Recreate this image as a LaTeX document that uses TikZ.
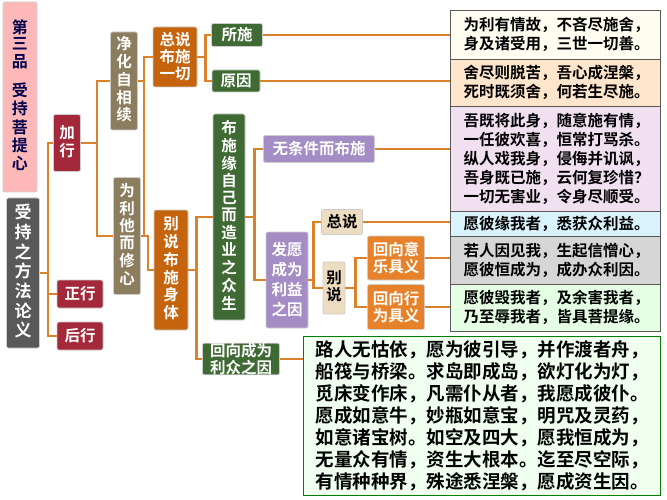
\documentclass[tikz,border=0pt]{standalone}
\usepackage{fontspec}
\setmainfont{Noto Sans CJK SC}[BoldFont={Noto Sans CJK SC Bold}]
\usetikzlibrary{calc}
\usetikzlibrary{positioning}
\definecolor{linkor}{HTML}{D9822B}
\definecolor{redbox}{HTML}{A3283A}
\definecolor{olivebox}{HTML}{8B7D5E}
\definecolor{brownbox}{HTML}{C6640E}
\definecolor{greenbox}{HTML}{3F6A33}
\definecolor{purplebox}{HTML}{A48CC4}
\definecolor{tanbox}{HTML}{EDDDC0}
\definecolor{orangebox}{HTML}{E8822A}
\newcommand{\vcol}[1]{\renewcommand{\arraystretch}{0.9}\begin{tabular}{@{}c@{}}#1\end{tabular}}
\begin{document}
\begin{tikzpicture}
		[
		x=1pt, y=-1pt,
		font=\bfseries,
		link/.style={draw=linkor,line width=2.2pt},
		]
		
		% Box styles
		\tikzstyle{box}=[draw=white!80!black,line width=0.8pt,rounded corners=2pt,inner sep=0,align=center,text=white,font=\fontsize{15.5}{17}\selectfont\bfseries]
		\tikzstyle{verse}=[draw=gray!70!black,line width=0.6pt,inner sep=0,align=left,text=black,anchor=north west,minimum width=210,font=\fontsize{15.5}{19}\selectfont\bfseries]
		\useasboundingbox (0,0) rectangle (667,500);
		
		% Left column
		\node(title)[box,fill=pink!80!red!70,text=blue!30!black,minimum width=34,minimum height=190,font=\fontsize{16}{18}\selectfont\bfseries] at (20,97){\vcol{第\\三\\品\\[10pt]受\\持\\菩\\提\\心}};
		\node(method)[box,fill=black!65,minimum width=33,minimum height=150,font=\fontsize{17}{19}\selectfont\bfseries] at (23,273){\vcol{受\\持\\之\\方\\法\\论\\义}};
		\node(prep)[box,fill=redbox,minimum width=27,minimum height=57] at (67,143){\vcol{加\\行}};
		\node(main)[box,fill=redbox,minimum width=46,minimum height=28] at (80,294){正行};
		\node(after)[box,fill=redbox,minimum width=46,minimum height=28] at (80,336){后行};
		% Level 2
		\node(purify)[box,fill=olivebox,minimum width=27,minimum height=98] at (124,81){\vcol{净\\化\\自\\相\\续}};
		\node(mind)[box,fill=olivebox,minimum width=27,minimum height=117] at (127,236){\vcol{为\\利\\他\\而\\修\\心}};
		\node(general)[box,fill=brownbox,minimum width=44,minimum height=60] at (175,57){总说\\布施\\一切};
		\node(body)[box,fill=brownbox,minimum width=34,minimum height=120] at (171,270){\vcol{别\\说\\布\\施\\身\\体}};
		% Level 3
		\node(what)[box,fill=greenbox,minimum width=51,minimum height=23] at (237,35){所施};
		\node(why)[box,fill=greenbox,minimum width=48,minimum height=22] at (236,81){原因};
		\node(beings)[box,fill=greenbox,minimum width=32,minimum height=206] at (229,217){\renewcommand{\arraystretch}{0.88}\begin{tabular}{@{}c@{}}布\\施\\缘\\自\\己\\而\\造\\业\\之\\众\\生\end{tabular}};
		\node(benefit)[box,fill=greenbox,minimum width=77,minimum height=28] at (241,359){回向成为\\利众之因};
		\node(uncond)[box,fill=purplebox,minimum width=111,minimum height=27] at (319,149){无条件而布施};
		\node(vow)[box,fill=purplebox,minimum width=42,minimum height=96,font=\fontsize{15.5}{20}\selectfont\bfseries] at (287,280){发愿\\成为\\利益\\之因};
		\node(summ)[box,fill=tanbox,text=black,minimum width=41,minimum height=25] at (342,222){总说};
		\node(detail)[box,fill=tanbox,text=black,minimum width=22,minimum height=52] at (334,288){\vcol{别\\说}};
		\node(intent)[box,fill=orangebox,minimum width=57,minimum height=44] at (396,258){回向意\\乐具义};
		\node(deed)[box,fill=orangebox,minimum width=57,minimum height=45] at (396,307){回向行\\为具义};
		
		% Verses
		\node(v1)[verse,fill=black!8!yellow!6,minimum height=49] at (450,10){\,为利有情故，不吝尽施舍，\\\,身及诸受用，三世一切善。};
		\node(v2)[verse,fill=orange!20,minimum height=47] at (450,59){\,舍尽则脱苦，吾心成涅槃，\\\,死时既须舍，何若生尽施。};
		\node(v3)[verse,fill=violet!12,minimum height=105] at (450,106){\,吾既将此身，随意施有情，\\\,一任彼欢喜，恒常打骂杀。\\\,纵人戏我身，侵侮并讥讽，\\\,吾身既已施，云何复珍惜？\\\,一切无害业，令身尽顺受。};
		\node(v4)[verse,fill=cyan!15,minimum height=25] at (450,211){\,愿彼缘我者，悉获众利益。};
		\node(v5)[verse,fill=black!16,minimum height=48] at (450,236){\,若人因见我，生起信憎心，\\\,愿彼恒成为，成办众利因。};
		\node(v6)[verse,fill=green!10,minimum height=47] at (450,284){\,愿彼毁我者，及余害我者，\\\,乃至辱我者，皆具菩提缘。};
		\node(v7)[verse,draw=green!50!black,line width=1pt,fill=green!6,minimum width=357,minimum height=159,font=\fontsize{18.5}{22}\selectfont\bfseries,inner xsep=5pt] at (303,336){路人无怙依，愿为彼引导，并作渡者舟，\\船筏与桥梁。求岛即成岛，欲灯化为灯，\\觅床变作床，凡需仆从者，我愿成彼仆。\\愿成如意牛，妙瓶如意宝，明咒及灵药，\\如意诸宝树。如空及四大，愿我恒成为，\\无量众有情，资生大根本。迄至尽空际，\\有情种种界，殊途悉涅槃，愿成资生因。};
		
		% Connectors
		\foreach \c in {prep,main,after} \draw[link](method.east)--++(8,0)|-(\c.west);
		\foreach \c in {purify,mind} \draw[link](prep.east)--++(16,0)|-(\c.west);
		\draw[link](purify.east)--++(6,0)|-(general.west);
		\draw[link](mind.east)--++(7,0)|-(body.west);
		\draw[link](purify.east)--++(6,0)|-(mind.east);
		\foreach \c in {what,why} \draw[link](general.east)--++(8,0)|-(\c.west);
		\foreach \c in {beings,benefit} \draw[link](body.east)--++(8,0)|-(\c.west);
		\foreach \c in {uncond,vow} \draw[link](beings.east)--++(9,0)|-(\c.west);
		\foreach \c in {summ,detail} \draw[link](vow.east)--++(5,0)|-(\c.west);
		\foreach \c in {intent,deed} \draw[link](detail.east)--++(10,0)|-(\c.west);
		\draw[link](what)--(what-|v1.west);
		\draw[link](why)--(why-|v2.west);
		\draw[link](uncond)--(uncond-|v3.west);
		\draw[link](summ)--(summ-|v4.west);
		\draw[link](intent)--(intent-|v5.west);
		\draw[link](deed)--(deed-|v6.west);
		\draw[link](benefit)--(benefit-|v7.west);
		
		\end{tikzpicture}
\end{document}
